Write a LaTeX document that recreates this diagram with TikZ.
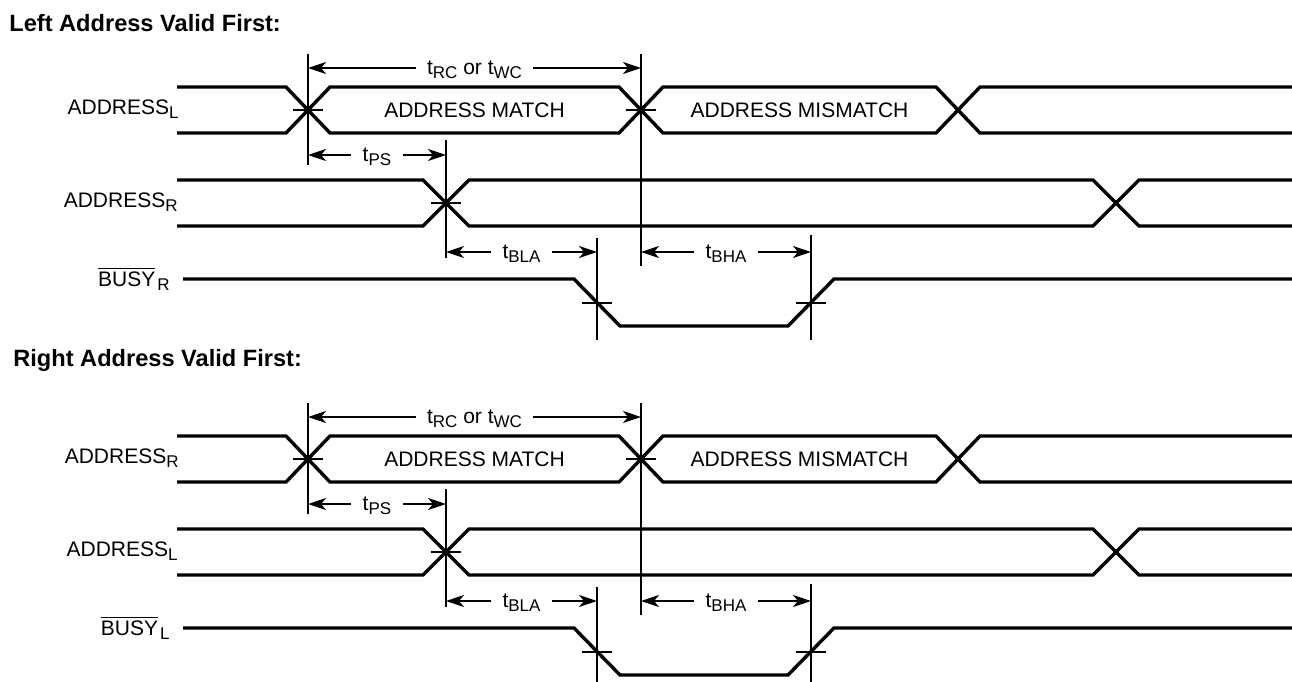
\documentclass[tikz,border=0pt]{standalone}
\usepackage{fontspec}
\setmainfont{Liberation Sans}
\usetikzlibrary{arrows.meta}
\usetikzlibrary{calc}

\newcommand{\lowtxt}[1]{\raisebox{-2pt}{\fontsize{8.5pt}{9pt}\selectfont #1}}

\tikzset{
	wave/.style={line width=1.7pt},
	guide/.style={line width=0.85pt},
	dim/.style={line width=0.85pt,-{Stealth[length=9pt,width=6pt,inset=2.5pt]}},
	tlabel/.style={inner xsep=5.5pt,inner ysep=0pt,anchor=base,yshift=-3pt},
	siglabel/.style={inner sep=0pt,anchor=base east},
	heading/.style={inner sep=0pt,anchor=base west,font=\bfseries\fontsize{11.8pt}{13pt}\selectfont}
}

\begin{document}
\begin{tikzpicture}[x=0.5pt,y=-0.5pt,font=\fontsize{10.5pt}{12pt}\selectfont]
		\useasboundingbox (0,0) rectangle (1292,681);
		\clip (0,0) rectangle (1292,681);

		\node [heading] (lefthead) at (9,31) {Left Address Valid First:};
		\node [heading] (righthead) at (13,366) {Right Address Valid First:};

		\foreach \dy/\sideA/\sideB in {0/L/R, 349/R/L} {
		\begin{scope}[shift={(0,\dy)}]
			\node [siglabel] (addrA) at (179,114) {ADDRESS\lowtxt{\sideA}};
			\node [siglabel] (addrB) at (178,207) {ADDRESS\lowtxt{\sideB}};
			\node [siglabel] (busy) at (170,286) {$\overline{\mbox{BUSY}}$\kern1pt\lowtxt{\sideB}};

			\draw [wave] (177,87) -- (286,87) -- (330,133) -- (619,133) -- (663,87) -- (936,87) -- (980,133) -- (1292,133);
			\draw [wave] (177,133) -- (286,133) -- (330,87) -- (619,87) -- (663,133) -- (936,133) -- (980,87) -- (1292,87);
			\draw [wave] (177,180) -- (423,180) -- (469,226) -- (1093,226) -- (1139,180) -- (1292,180);
			\draw [wave] (177,226) -- (423,226) -- (469,180) -- (1093,180) -- (1139,226) -- (1292,226);
			\draw [wave] (183,279) -- (574,279) -- (620,326) -- (788,326) -- (834,279) -- (1292,279);

			\node (match) at (474.5,110) {ADDRESS MATCH};
			\node (mismatch) at (799.5,110) {ADDRESS MISMATCH};

			\coordinate (crossA) at (308,110);
			\coordinate (crossB) at (641,110);
			\coordinate (crossC) at (446,203);
			\coordinate (fall) at (597,303);
			\coordinate (rise) at (811,303);

			\draw [guide] (crossA |- 0,54) -- (crossA |- 0,165);
			\draw [guide] (crossB |- 0,54) -- (crossB |- 0,266);
			\draw [guide] (crossC |- 0,140) -- (crossC |- 0,258);
			\draw [guide] (fall |- 0,238) -- (fall |- 0,340);
			\draw [guide] (rise |- 0,235) -- (rise |- 0,340);
			\foreach \c in {crossA,crossB,crossC,fall,rise}
				\draw [guide] ([xshift=-7.5pt]\c) -- ([xshift=7.5pt]\c);

			\coordinate (rcL) at (crossA |- 0,68);
			\coordinate (rcR) at (crossB |- 0,68);
			\node [tlabel] (trc) at ($(rcL)!0.5!(rcR)$) {t\lowtxt{RC} or t\lowtxt{WC}};
			\draw [dim] (trc.west |- rcL) -- (rcL);
			\draw [dim] (trc.east |- rcR) -- (rcR);

			\coordinate (psL) at (crossA |- 0,155);
			\coordinate (psR) at (crossC |- 0,155);
			\node [tlabel] (tps) at ($(psL)!0.5!(psR)$) {t\lowtxt{PS}};
			\draw [dim] (tps.west |- psL) -- (psL);
			\draw [dim] (tps.east |- psR) -- (psR);

			\coordinate (blaL) at (crossC |- 0,252);
			\coordinate (blaR) at (fall |- 0,252);
			\node [tlabel] (tbla) at ($(blaL)!0.5!(blaR)$) {t\lowtxt{BLA}};
			\draw [dim] (tbla.west |- blaL) -- (blaL);
			\draw [dim] (tbla.east |- blaR) -- (blaR);

			\coordinate (bhaL) at (crossB |- 0,252);
			\coordinate (bhaR) at (rise |- 0,252);
			\node [tlabel] (tbha) at ($(bhaL)!0.5!(bhaR)$) {t\lowtxt{BHA}};
			\draw [dim] (tbha.west |- bhaL) -- (bhaL);
			\draw [dim] (tbha.east |- bhaR) -- (bhaR);
		\end{scope}
		}
	\end{tikzpicture}
\end{document}
